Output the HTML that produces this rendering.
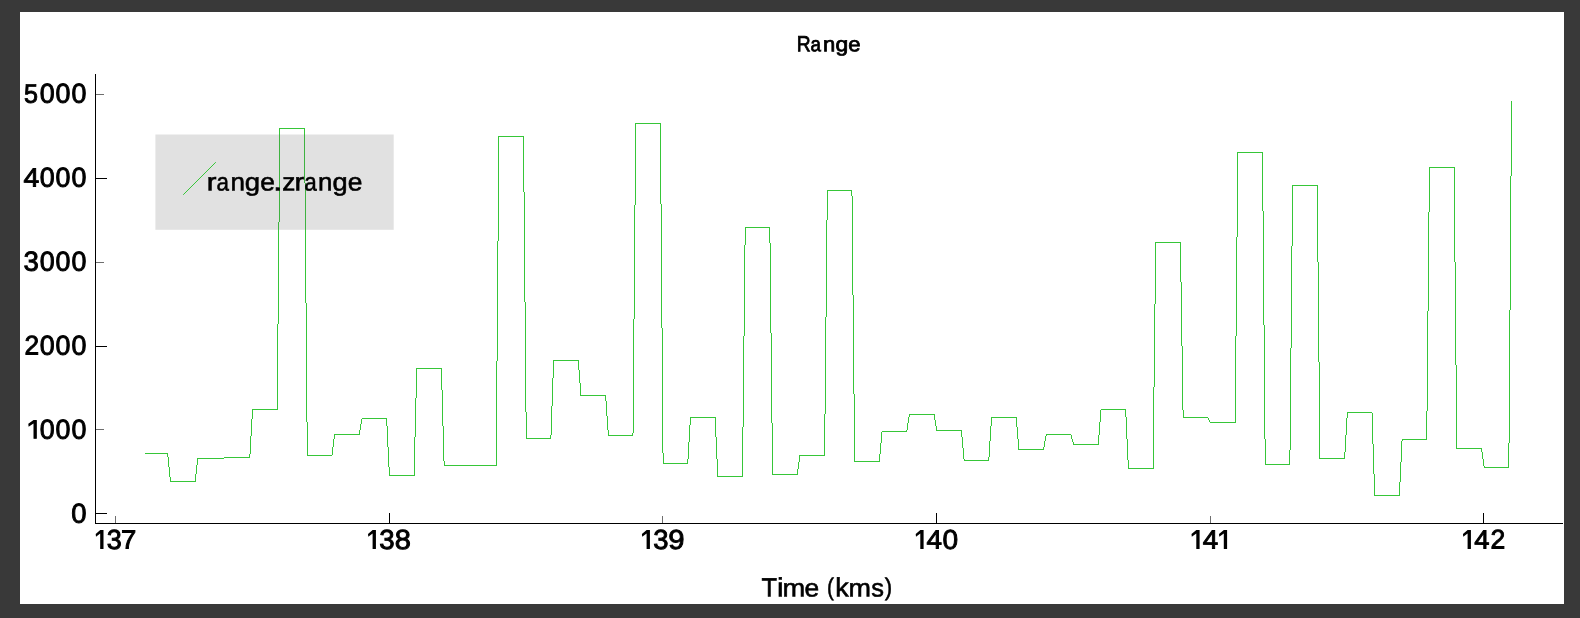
<!DOCTYPE html>
<html><head><meta charset="utf-8"><title>Range</title>
<style>
html,body{margin:0;padding:0;background:#393939;}
body{width:1580px;height:618px;overflow:hidden;position:relative;}
#plot{position:absolute;left:20px;top:12px;width:1544px;height:592px;background:#fff;}
svg{position:absolute;left:0;top:0;will-change:transform;}
text{font-family:"Liberation Sans",sans-serif;fill:#000;stroke:#000;stroke-width:0.9px;text-rendering:geometricPrecision;font-kerning:none;}
</style></head><body>
<div id="plot"></div>
<svg width="1580" height="618" viewBox="0 0 1580 618">
<path d="M145 453h23v1h-23zM167 454h1v3h-1zM168 457h1v10h-1zM169 467h1v10h-1zM170 477h1v4h-1zM170 481h26v1h-26zM195 474h1v7h-1zM196 465h1v9h-1zM197 459h1v6h-1zM197 458h26v1h-26zM223 458h1v1h-1zM224 457h1v1h-1zM225 457h25v1h-25zM249 454h1v3h-1zM250 436h1v18h-1zM251 419h1v17h-1zM252 410h1v9h-1zM252 409h26v1h-26zM277 324h1v85h-1zM278 222h1v102h-1zM279 129h1v93h-1zM279 128h26v1h-26zM304 129h1v54h-1zM305 183h1v120h-1zM306 303h1v119h-1zM307 422h1v33h-1zM307 455h25v1h-25zM332 447h1v8h-1zM333 439h1v8h-1zM334 435h1v4h-1zM334 434h26v1h-26zM359 430h1v4h-1zM360 424h1v6h-1zM361 419h1v5h-1zM362 418h25v1h-25zM386 419h1v7h-1zM387 426h1v21h-1zM388 447h1v20h-1zM389 467h1v8h-1zM389 475h26v1h-26zM414 437h1v38h-1zM415 398h1v39h-1zM416 369h1v29h-1zM416 368h26v1h-26zM441 369h1v21h-1zM442 390h1v36h-1zM443 426h1v35h-1zM444 461h1v4h-1zM444 465h25v1h-25zM469 465h1v1h-1zM470 465h1v1h-1zM471 465h26v1h-26zM496 361h1v104h-1zM497 241h1v120h-1zM498 137h1v104h-1zM498 136h26v1h-26zM523 137h1v55h-1zM524 192h1v110h-1zM525 302h1v110h-1zM526 412h1v26h-1zM526 438h25v1h-25zM550 435h1v3h-1zM551 406h1v29h-1zM552 378h1v28h-1zM553 361h1v17h-1zM553 360h26v1h-26zM578 361h1v9h-1zM579 370h1v13h-1zM580 383h1v12h-1zM580 395h26v1h-26zM605 396h1v5h-1zM606 401h1v15h-1zM607 416h1v14h-1zM608 430h1v5h-1zM608 435h25v1h-25zM632 433h1v2h-1zM633 319h1v114h-1zM634 205h1v114h-1zM635 124h1v81h-1zM635 123h26v1h-26zM660 124h1v80h-1zM661 204h1v124h-1zM662 328h1v125h-1zM663 453h1v10h-1zM663 463h25v1h-25zM687 459h1v4h-1zM688 442h1v17h-1zM689 425h1v17h-1zM690 418h1v7h-1zM690 417h26v1h-26zM715 418h1v19h-1zM716 437h1v22h-1zM717 459h1v17h-1zM717 476h26v1h-26zM742 427h1v49h-1zM743 336h1v91h-1zM744 245h1v91h-1zM745 228h1v17h-1zM745 227h25v1h-25zM769 228h1v15h-1zM770 243h1v90h-1zM771 333h1v90h-1zM772 423h1v51h-1zM772 474h26v1h-26zM797 469h1v5h-1zM798 462h1v7h-1zM799 456h1v6h-1zM799 455h26v1h-26zM824 414h1v41h-1zM825 317h1v97h-1zM826 220h1v97h-1zM827 191h1v29h-1zM827 190h25v1h-25zM851 191h1v5h-1zM852 196h1v99h-1zM853 295h1v99h-1zM854 394h1v67h-1zM854 461h26v1h-26zM879 454h1v7h-1zM880 443h1v11h-1zM881 432h1v11h-1zM882 431h25v1h-25zM906 430h1v1h-1zM907 423h1v7h-1zM908 417h1v6h-1zM909 415h1v2h-1zM909 414h26v1h-26zM934 415h1v5h-1zM935 420h1v6h-1zM936 426h1v4h-1zM936 430h26v1h-26zM961 431h1v6h-1zM962 437h1v11h-1zM963 448h1v11h-1zM964 459h1v1h-1zM964 460h25v1h-25zM988 457h1v3h-1zM989 441h1v16h-1zM990 426h1v15h-1zM991 418h1v8h-1zM991 417h26v1h-26zM1016 418h1v9h-1zM1017 427h1v12h-1zM1018 439h1v10h-1zM1018 449h26v1h-26zM1043 447h1v2h-1zM1044 441h1v6h-1zM1045 436h1v5h-1zM1046 435h1v1h-1zM1046 434h25v1h-25zM1071 435h1v4h-1zM1072 439h1v3h-1zM1073 442h1v2h-1zM1073 444h26v1h-26zM1098 435h1v9h-1zM1099 422h1v13h-1zM1100 410h1v12h-1zM1101 409h25v1h-25zM1125 410h1v7h-1zM1126 417h1v22h-1zM1127 439h1v21h-1zM1128 460h1v8h-1zM1128 468h26v1h-26zM1153 387h1v81h-1zM1154 304h1v83h-1zM1155 243h1v61h-1zM1155 242h26v1h-26zM1180 243h1v39h-1zM1181 282h1v64h-1zM1182 346h1v64h-1zM1183 410h1v7h-1zM1183 417h25v1h-25zM1208 418h1v2h-1zM1209 420h1v2h-1zM1210 422h26v1h-26zM1235 336h1v86h-1zM1236 237h1v99h-1zM1237 153h1v84h-1zM1237 152h26v1h-26zM1262 153h1v58h-1zM1263 211h1v114h-1zM1264 325h1v114h-1zM1265 439h1v25h-1zM1265 464h25v1h-25zM1289 450h1v14h-1zM1290 348h1v102h-1zM1291 246h1v102h-1zM1292 186h1v60h-1zM1292 185h26v1h-26zM1317 186h1v76h-1zM1318 262h1v100h-1zM1319 362h1v96h-1zM1319 458h26v1h-26zM1344 452h1v6h-1zM1345 435h1v17h-1zM1346 418h1v17h-1zM1347 413h1v5h-1zM1347 412h25v1h-25zM1372 413h1v31h-1zM1373 444h1v30h-1zM1374 474h1v21h-1zM1374 495h26v1h-26zM1399 482h1v13h-1zM1400 462h1v20h-1zM1401 441h1v21h-1zM1402 440h1v1h-1zM1402 439h25v1h-25zM1426 411h1v28h-1zM1427 311h1v100h-1zM1428 212h1v99h-1zM1429 168h1v44h-1zM1429 167h26v1h-26zM1454 168h1v94h-1zM1455 262h1v103h-1zM1456 365h1v83h-1zM1456 448h26v1h-26zM1481 449h1v3h-1zM1482 452h1v7h-1zM1483 459h1v7h-1zM1484 466h1v1h-1zM1484 467h25v1h-25zM1508 443h1v24h-1zM1509 310h1v133h-1zM1510 176h1v134h-1zM1511 102h1v74h-1zM1511 101h1v1h-1z" fill="#36c638" shape-rendering="crispEdges"/>
<rect x="155.4" y="134.5" width="238.3" height="95.3" fill="rgb(100,100,100)" fill-opacity="0.196"/>
<line x1="183.2" y1="194.8" x2="215.8" y2="162.2" stroke="#36c638" stroke-width="1"/>
<rect x="95" y="74" width="1" height="450" fill="#000"/>
<rect x="95" y="523" width="1468" height="1" fill="#000"/>
<rect x="96" y="94" width="8" height="1" fill="#6e6e6e"/>
<rect x="96" y="178" width="11" height="1" fill="#000"/>
<rect x="96" y="262" width="8" height="1" fill="#6e6e6e"/>
<rect x="96" y="346" width="11" height="1" fill="#000"/>
<rect x="96" y="429" width="8" height="1" fill="#6e6e6e"/>
<rect x="96" y="513" width="11" height="1" fill="#000"/>
<rect x="115" y="516" width="1" height="7" fill="#6e6e6e"/>
<rect x="389" y="513" width="1" height="10" fill="#000"/>
<rect x="662" y="516" width="1" height="7" fill="#6e6e6e"/>
<rect x="936" y="513" width="1" height="10" fill="#000"/>
<rect x="1210" y="516" width="1" height="7" fill="#6e6e6e"/>
<rect x="1483" y="513" width="1" height="10" fill="#000"/>
<g id="y5000"><text transform="translate(24.10,102.65) rotate(0.05) scale(0.958,1.02)" font-size="26.2">5</text><text transform="translate(39.75,102.80) rotate(0.05) scale(1.022,1.053)" font-size="26.2">0</text><text transform="translate(55.45,102.80) rotate(0.05) scale(1.022,1.053)" font-size="26.2">0</text><text transform="translate(71.55,102.80) rotate(0.05) scale(1.022,1.053)" font-size="26.2">0</text></g>
<g id="y4000"><text transform="translate(23.50,186.40) rotate(0.05) scale(1.079,1)" font-size="26.2">4</text><text transform="translate(39.75,186.80) rotate(0.05) scale(1.022,1.053)" font-size="26.2">0</text><text transform="translate(55.45,186.80) rotate(0.05) scale(1.022,1.053)" font-size="26.2">0</text><text transform="translate(71.55,186.80) rotate(0.05) scale(1.022,1.053)" font-size="26.2">0</text></g>
<g id="y3000"><text transform="translate(23.55,270.80) rotate(0.05) scale(1.055,1.053)" font-size="26.2">3</text><text transform="translate(39.75,270.80) rotate(0.05) scale(1.022,1.053)" font-size="26.2">0</text><text transform="translate(55.45,270.80) rotate(0.05) scale(1.022,1.053)" font-size="26.2">0</text><text transform="translate(71.55,270.80) rotate(0.05) scale(1.022,1.053)" font-size="26.2">0</text></g>
<g id="y2000"><text transform="translate(24.38,354.40) rotate(0.05) scale(1.005,1.03)" font-size="26.2">2</text><text transform="translate(39.75,354.80) rotate(0.05) scale(1.022,1.053)" font-size="26.2">0</text><text transform="translate(55.45,354.80) rotate(0.05) scale(1.022,1.053)" font-size="26.2">0</text><text transform="translate(71.55,354.80) rotate(0.05) scale(1.022,1.053)" font-size="26.2">0</text></g>
<g id="y1000"><clipPath id="one1"><rect x="34.15" y="420.60" width="2.05" height="17.60"/></clipPath><path d="M33.55,420.00 L36.80,420.00 L36.80,438.80 L33.50,438.80 L33.50,423.50 L28.60,426.70 L28.30,423.80Z" fill="#000"/><g clip-path="url(#one1)"><text transform="translate(28.35,438.80)" font-size="26.2">1</text></g><text transform="translate(39.75,438.80) rotate(0.05) scale(1.022,1.053)" font-size="26.2">0</text><text transform="translate(55.45,438.80) rotate(0.05) scale(1.022,1.053)" font-size="26.2">0</text><text transform="translate(71.55,438.80) rotate(0.05) scale(1.022,1.053)" font-size="26.2">0</text></g>
<g id="y0"><text transform="translate(71.33,522.80) rotate(0.05) scale(1.046,1.053)" font-size="26.2">0</text></g>
<g id="x137"><clipPath id="one2"><rect x="100.85" y="530.70" width="2.05" height="17.60"/></clipPath><path d="M100.25,530.10 L103.50,530.10 L103.50,548.90 L100.20,548.90 L100.20,533.60 L96.00,536.80 L95.70,533.90Z" fill="#000"/><g clip-path="url(#one2)"><text transform="translate(95.05,548.90)" font-size="26.2">1</text></g><text transform="translate(106.77,548.90) rotate(0.05) scale(1.030,1.053)" font-size="26.2">3</text><text transform="translate(121.09,548.50) rotate(0.05) scale(1.050,1)" font-size="26.2">7</text></g>
<g id="x138"><clipPath id="one3"><rect x="373.25" y="530.70" width="2.05" height="17.60"/></clipPath><path d="M372.65,530.10 L375.90,530.10 L375.90,548.90 L372.60,548.90 L372.60,533.60 L368.30,536.80 L368.00,533.90Z" fill="#000"/><g clip-path="url(#one3)"><text transform="translate(367.45,548.90)" font-size="26.2">1</text></g><text transform="translate(379.15,548.90) rotate(0.05) scale(1.055,1.053)" font-size="26.2">3</text><text transform="translate(394.84,548.90) rotate(0.05) scale(1.106,1.053)" font-size="26.2">8</text></g>
<g id="x139"><clipPath id="one4"><rect x="647.25" y="530.70" width="2.05" height="17.60"/></clipPath><path d="M646.65,530.10 L649.90,530.10 L649.90,548.90 L646.60,548.90 L646.60,533.60 L642.20,536.80 L641.90,533.90Z" fill="#000"/><g clip-path="url(#one4)"><text transform="translate(641.45,548.90)" font-size="26.2">1</text></g><text transform="translate(653.16,548.90) rotate(0.05) scale(1.047,1.053)" font-size="26.2">3</text><text transform="translate(668.13,548.90) rotate(0.05) scale(1.116,1.053)" font-size="26.2">9</text></g>
<g id="x140"><clipPath id="one5"><rect x="920.95" y="530.70" width="2.05" height="17.60"/></clipPath><path d="M920.35,530.10 L923.60,530.10 L923.60,548.90 L920.30,548.90 L920.30,533.60 L916.00,536.80 L915.70,533.90Z" fill="#000"/><g clip-path="url(#one5)"><text transform="translate(915.15,548.90)" font-size="26.2">1</text></g><text transform="translate(926.61,548.50) rotate(0.05) scale(1.064,1)" font-size="26.2">4</text><text transform="translate(942.41,548.90) rotate(0.05) scale(1.070,1.053)" font-size="26.2">0</text></g>
<g id="x141"><clipPath id="one6"><rect x="1196.95" y="530.70" width="2.05" height="17.60"/></clipPath><path d="M1196.35,530.10 L1199.60,530.10 L1199.60,548.90 L1196.30,548.90 L1196.30,533.60 L1191.80,536.80 L1191.50,533.90Z" fill="#000"/><g clip-path="url(#one6)"><text transform="translate(1191.15,548.90)" font-size="26.2">1</text></g><text transform="translate(1202.66,548.50) rotate(0.05) scale(1.060,1)" font-size="26.2">4</text><clipPath id="one7"><rect x="1224.45" y="530.70" width="2.05" height="17.60"/></clipPath><path d="M1223.85,530.10 L1227.10,530.10 L1227.10,548.90 L1223.80,548.90 L1223.80,533.60 L1219.30,536.80 L1219.00,533.90Z" fill="#000"/><g clip-path="url(#one7)"><text transform="translate(1218.65,548.90)" font-size="26.2">1</text></g></g>
<g id="x142"><clipPath id="one8"><rect x="1468.25" y="530.70" width="2.05" height="17.60"/></clipPath><path d="M1467.65,530.10 L1470.90,530.10 L1470.90,548.90 L1467.60,548.90 L1467.60,533.60 L1463.25,536.80 L1462.95,533.90Z" fill="#000"/><g clip-path="url(#one8)"><text transform="translate(1462.45,548.90)" font-size="26.2">1</text></g><text transform="translate(1474.17,548.50) rotate(0.05) scale(1.045,1)" font-size="26.2">4</text><text transform="translate(1490.56,548.50) rotate(0.05) scale(1.014,1.03)" font-size="26.2">2</text></g>
<g id="title"><text transform="translate(796.76,51.35) rotate(0.05) scale(0.882,1)" font-size="21.8" style="stroke-width:0.8px">R</text><text transform="translate(810.62,51.35) rotate(0.05) scale(0.862,0.952)" font-size="21.8" style="stroke-width:0.8px">a</text><text transform="translate(822.90,51.35) rotate(0.05) scale(1.009,0.952)" font-size="21.8" style="stroke-width:0.8px">n</text><text transform="translate(835.38,51.35) rotate(0.05) scale(1.051,0.952)" font-size="21.8" style="stroke-width:0.8px">g</text><text transform="translate(848.34,51.35) rotate(0.05) scale(1.014,0.952)" font-size="21.8" style="stroke-width:0.8px">e</text></g>
<g id="xlabel"><text transform="translate(761.48,596.50) rotate(0.05) scale(0.960,1)" font-size="26.45" style="stroke-width:0.6px">T</text><text transform="translate(777.02,596.50) rotate(0.05) scale(1.120,1)" font-size="26.45" style="stroke-width:0.6px">i</text><text transform="translate(782.44,596.50) rotate(0.05) scale(1.031,0.952)" font-size="26.45" style="stroke-width:0.6px">m</text><text transform="translate(804.53,596.50) rotate(0.05) scale(0.999,0.952)" font-size="26.45" style="stroke-width:0.6px">e</text> <text transform="translate(827.06,595.25) rotate(0.05) scale(0.784,0.927)" font-size="26.45" style="stroke-width:0.6px">(</text><text transform="translate(835.13,596.50) rotate(0.05) scale(1.019,1)" font-size="26.45" style="stroke-width:0.6px">k</text><text transform="translate(848.56,596.50) rotate(0.05) scale(1.020,0.952)" font-size="26.45" style="stroke-width:0.6px">m</text><text transform="translate(871.24,596.50) rotate(0.05) scale(0.962,0.952)" font-size="26.45" style="stroke-width:0.6px">s</text><text transform="translate(884.72,595.25) rotate(0.05) scale(0.841,0.927)" font-size="26.45" style="stroke-width:0.6px">)</text></g>
<g id="legend"><text transform="translate(206.71,190.50) rotate(0.05) scale(1.104,0.952)" font-size="26.45" style="stroke-width:0.6px">r</text><text transform="translate(216.40,190.50) rotate(0.05) scale(0.846,0.952)" font-size="26.45" style="stroke-width:0.6px">a</text><text transform="translate(230.52,190.50) rotate(0.05) scale(0.983,0.952)" font-size="26.45" style="stroke-width:0.6px">n</text><text transform="translate(244.79,190.50) rotate(0.05) scale(1.042,0.952)" font-size="26.45" style="stroke-width:0.6px">g</text><text transform="translate(260.13,190.50) rotate(0.05) scale(0.999,0.952)" font-size="26.45" style="stroke-width:0.6px">e</text><text transform="translate(272.95,190.50) rotate(0.05) scale(1.300,1)" font-size="26.45" style="stroke-width:0.6px">.</text><text transform="translate(282.14,190.50) rotate(0.05) scale(0.992,0.952)" font-size="26.45" style="stroke-width:0.6px">z</text><text transform="translate(294.41,190.50) rotate(0.05) scale(1.104,0.952)" font-size="26.45" style="stroke-width:0.6px">r</text><text transform="translate(304.24,190.50) rotate(0.05) scale(0.850,0.952)" font-size="26.45" style="stroke-width:0.6px">a</text><text transform="translate(318.03,190.50) rotate(0.05) scale(0.979,0.952)" font-size="26.45" style="stroke-width:0.6px">n</text><text transform="translate(332.46,190.50) rotate(0.05) scale(1.030,0.952)" font-size="26.45" style="stroke-width:0.6px">g</text><text transform="translate(347.63,190.50) rotate(0.05) scale(0.999,0.952)" font-size="26.45" style="stroke-width:0.6px">e</text></g>
</svg>
</body></html>
